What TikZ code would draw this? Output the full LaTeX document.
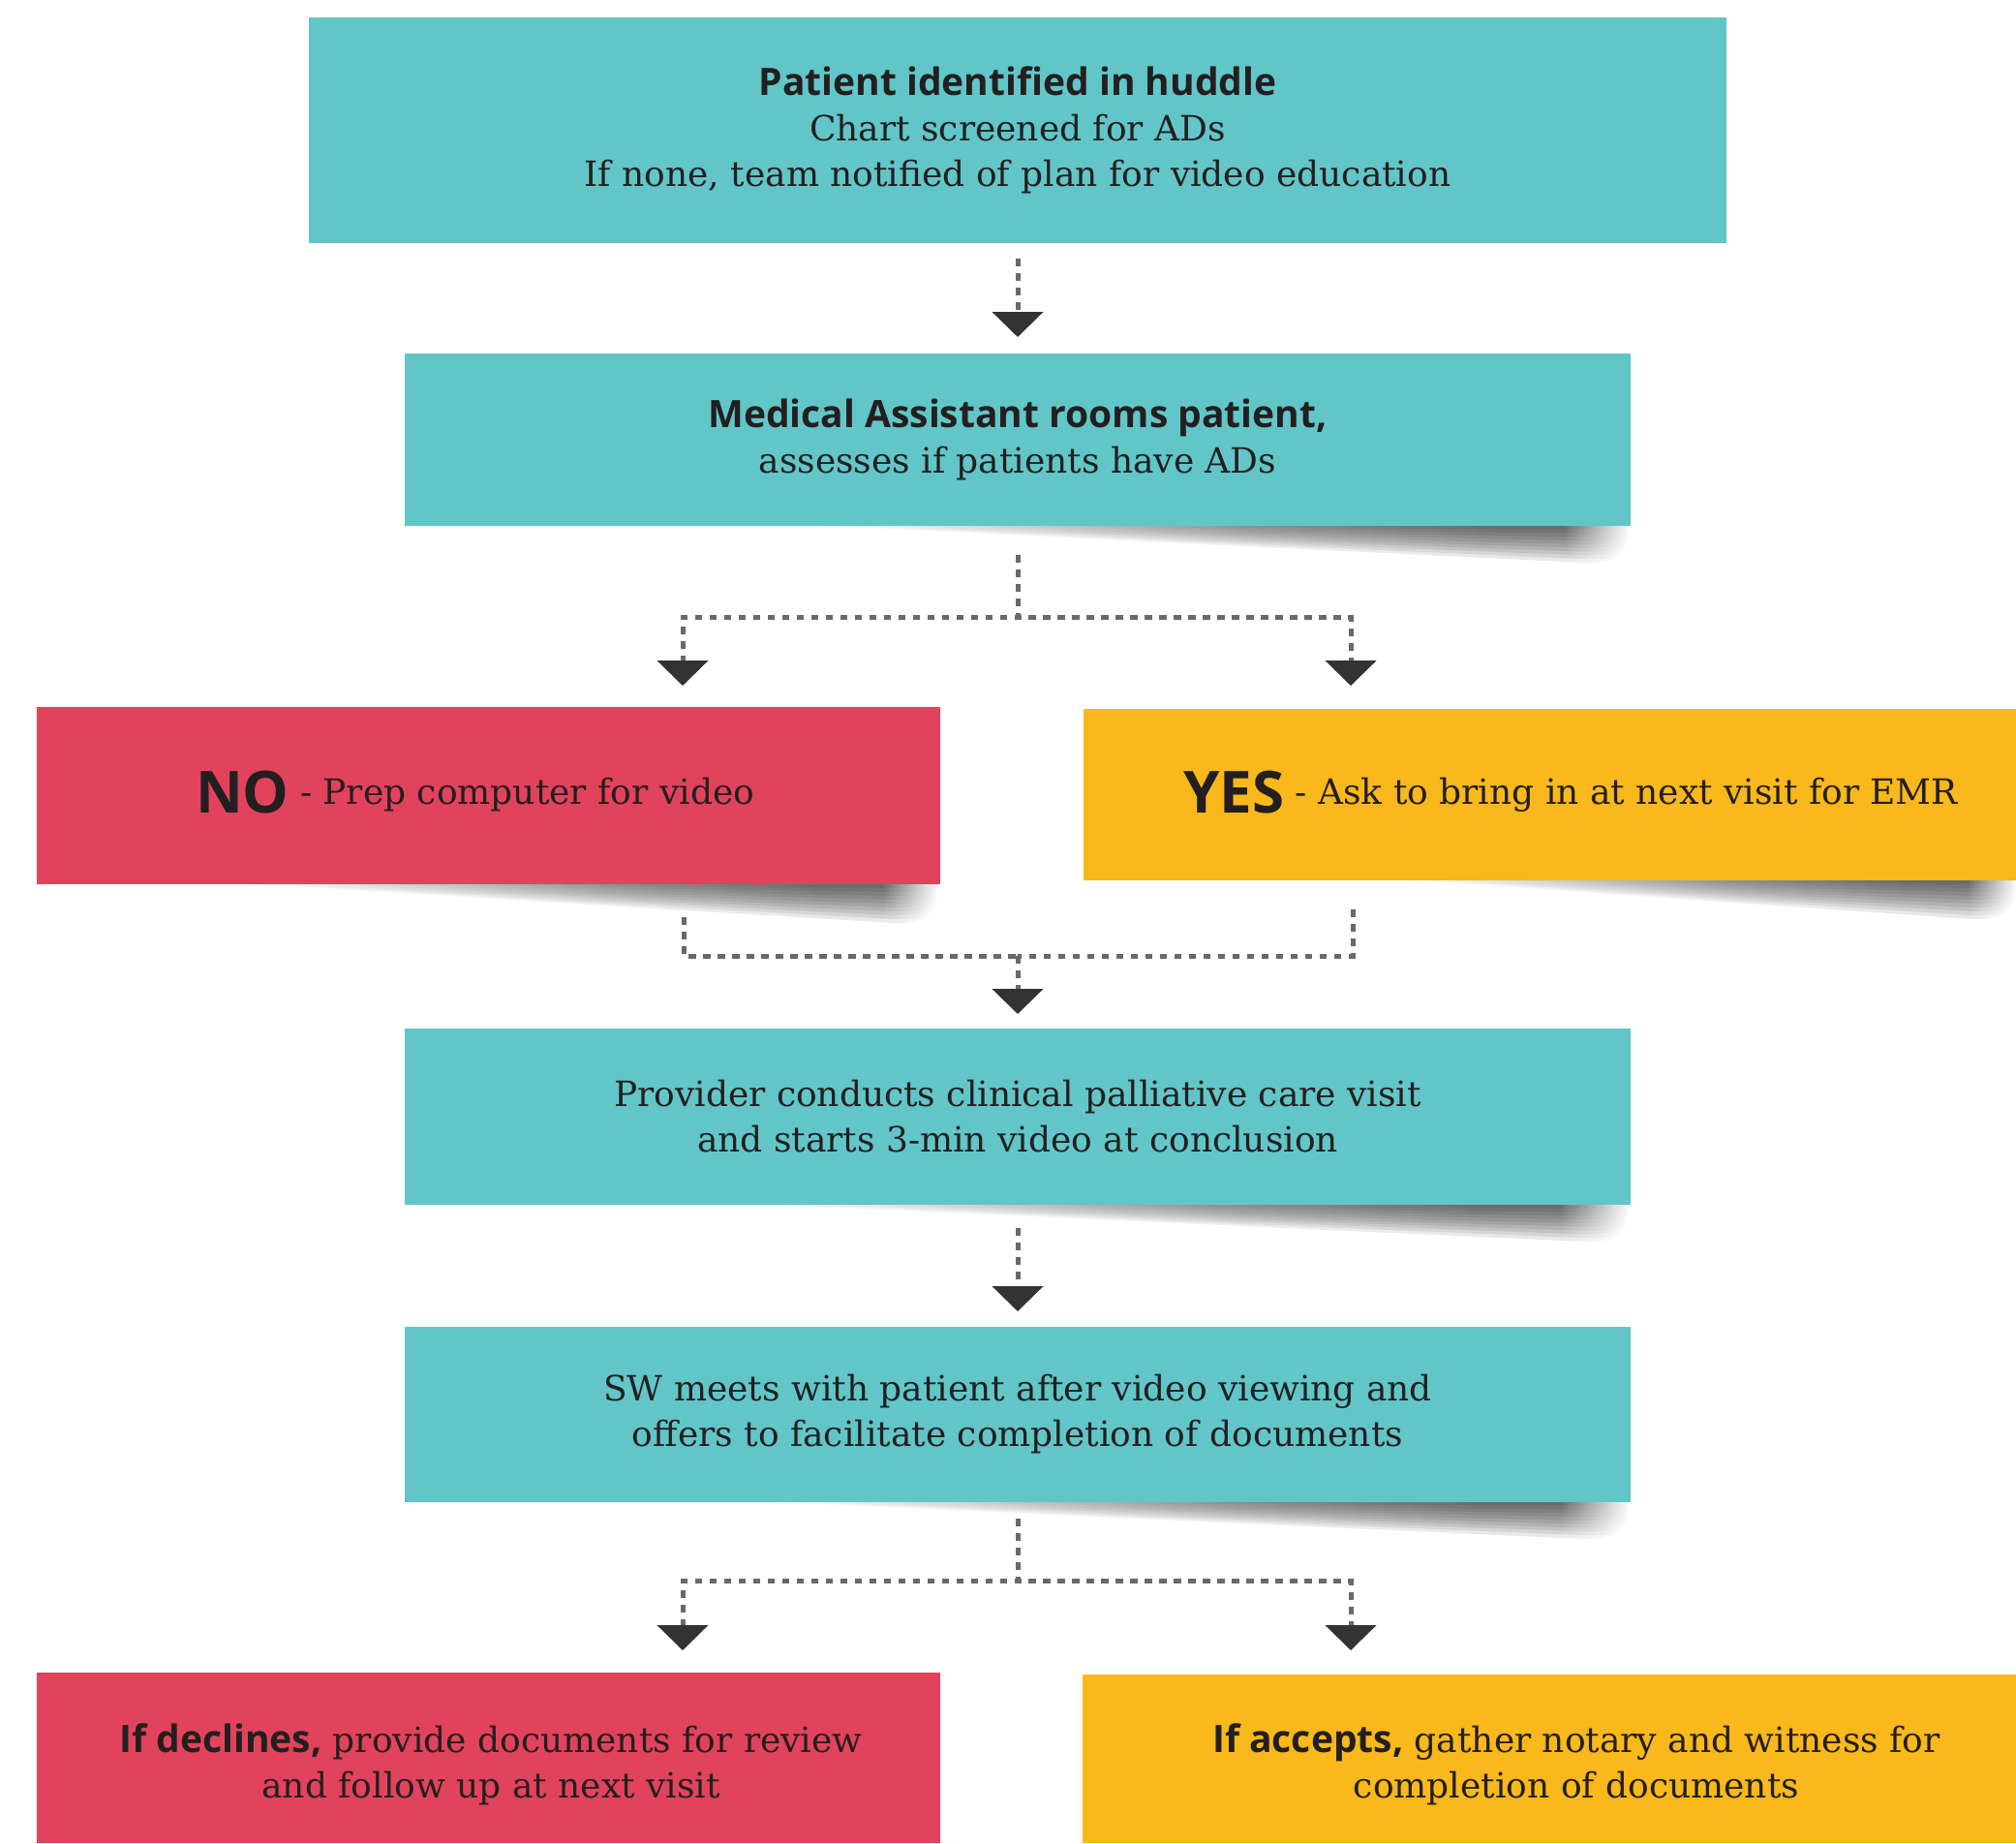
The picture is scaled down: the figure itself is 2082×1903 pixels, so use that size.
\documentclass[tikz,border=0pt]{standalone}
\usepackage{fontspec}
\setmainfont{DejaVu Serif}
\newfontfamily\hdfont{Open Sans}
\usetikzlibrary{arrows.meta,calc}
\definecolor{boxteal}{RGB}{98,198,200}
\definecolor{boxred}{RGB}{226,67,92}
\definecolor{boxyellow}{RGB}{249,184,27}
\definecolor{txt}{RGB}{35,31,32}
\definecolor{dashgray}{RGB}{105,105,105}
\definecolor{arrowdark}{RGB}{51,51,51}
\pgfdeclarehorizontalshading{curlshade}{100bp}{color(0bp)=(white); color(25bp)=(white); color(38bp)=(black!30); color(52bp)=(black!65); color(66bp)=(black!85); color(71bp)=(black!85); color(75bp)=(white); color(100bp)=(white)}
\newcommand\hb[1]{{\hdfont\bfseries\fontsize{39}{47}\selectfont #1}}
\newcommand\papershadow[4]{%
  \foreach \f in {0.1,0.2,0.3,0.4,0.5,0.6,0.7,0.8,0.9,1.0}{%
    \shade[shading=curlshade, fill opacity=0.1] (#1,#3) -- (#2,#3) -- (#2,{#3+0.4*#4*\f})
      .. controls ({#2-6},{#3+#4*\f}) and ({#2-25},{#3+#4*\f}) .. ({#2-45},{#3+#4*\f}) -- cycle;}}
\begin{document}
\begin{tikzpicture}[x=1pt,y=-1pt,
  box/.style={rectangle, inner sep=0pt, outer sep=0pt, text=txt, align=center,
    font=\fontsize{36}{47}\selectfont, anchor=north west},
  txtnode/.style={inner sep=0pt, text=txt, align=center, font=\fontsize{36}{47}\selectfont},
  line/.style={draw=dashgray, line width=5pt, dash pattern=on 7.5pt off 7.5pt},
  conn/.style={line, -{Triangle[width=52pt,length=26pt,color=arrowdark]}}]
\useasboundingbox (0,0) rectangle (2082,1903);
\fill[white] (0,0) rectangle (2082,1903);
% shadows
\papershadow{850}{1682}{543}{38}
\papershadow{262}{968}{913}{40}
\papershadow{1457}{2082}{909}{40}
\papershadow{797}{1682}{1244}{38}
\papershadow{797}{1682}{1551}{38}
% boxes
\node[box, fill=boxteal, minimum width=1464pt, minimum height=233pt] (b1) at (319,18)
  {\hb{Patient identified in huddle}\\Chart screened for ADs\\If none, team notified of plan for video education};
\node[box, fill=boxteal, minimum width=1266pt, minimum height=178pt] (b2) at (418,365)
  {\hb{Medical Assistant rooms patient,}\\assesses if patients have ADs};
\node[box, fill=boxred, minimum width=933pt, minimum height=183pt] (no) at (38,730) {};
\node[box, fill=boxyellow, minimum width=963pt, minimum height=177pt] (yes) at (1119,732) {};
\node[box, fill=boxteal, minimum width=1266pt, minimum height=182pt] (b3) at (418,1062)
  {Provider conducts clinical palliative care visit\\and starts 3-min video at conclusion};
\node[box, fill=boxteal, minimum width=1266pt, minimum height=181pt] (b4) at (418,1370)
  {SW meets with patient after video viewing and\\offers to facilitate completion of documents};
\node[box, fill=boxred, minimum width=933pt, minimum height=176pt] (dec) at (38,1727) {};
\node[box, fill=boxyellow, minimum width=964pt, minimum height=174pt] (acc) at (1118,1729) {};
% texts
\node[txtnode, anchor=base west] (notxt) at (202,839)
  {{\hdfont\bfseries\fontsize{60}{60}\selectfont NO}\raisebox{9pt}{ - Prep computer for video}};
\node[txtnode, anchor=base west] (yestxt) at (1222,839)
  {{\hdfont\bfseries\fontsize{60}{60}\selectfont YES}\raisebox{9pt}{ - Ask to bring in at next visit for EMR}};
\node[txtnode] (dectxt) at (507,1822)
  {\hb{If declines,} provide documents for review\\and follow up at next visit};
\node[txtnode] (acctxt) at (1628,1822)
  {\hb{If accepts,} gather notary and witness for\\completion of documents};
% connectors
\coordinate (j1) at (1051,637);
\coordinate (noIn) at (705,730);
\coordinate (yesIn) at (1395,732);
\coordinate (noOut) at (706,913);
\coordinate (yesOut) at (1397,909);
\coordinate (j2) at (1051,987);
\coordinate (j3) at (1051,1632);
\coordinate (decIn) at (705,1727);
\coordinate (accIn) at (1395,1729);
\draw[conn, shorten <=16pt, shorten >=17pt] (b1.south) -- (b2.north);
\draw[conn, shorten <=30pt, shorten >=22pt] (b2.south) -- (j1) -| (noIn);
\draw[conn, shorten <=30pt, shorten >=24pt] (b2.south) -- (j1) -| (yesIn);
\draw[line, shorten <=34pt] (noOut) |- (j2);
\draw[line, shorten <=30pt] (yesOut) |- (j2);
\draw[conn, shorten >=15pt] (j2) -- (b3.north);
\draw[conn, shorten <=24pt, shorten >=16pt] (b3.south) -- (b4.north);
\draw[conn, shorten <=17pt, shorten >=23pt] (b4.south) -- (j3) -| (decIn);
\draw[conn, shorten <=17pt, shorten >=25pt] (b4.south) -- (j3) -| (accIn);
\end{tikzpicture}
\end{document}
